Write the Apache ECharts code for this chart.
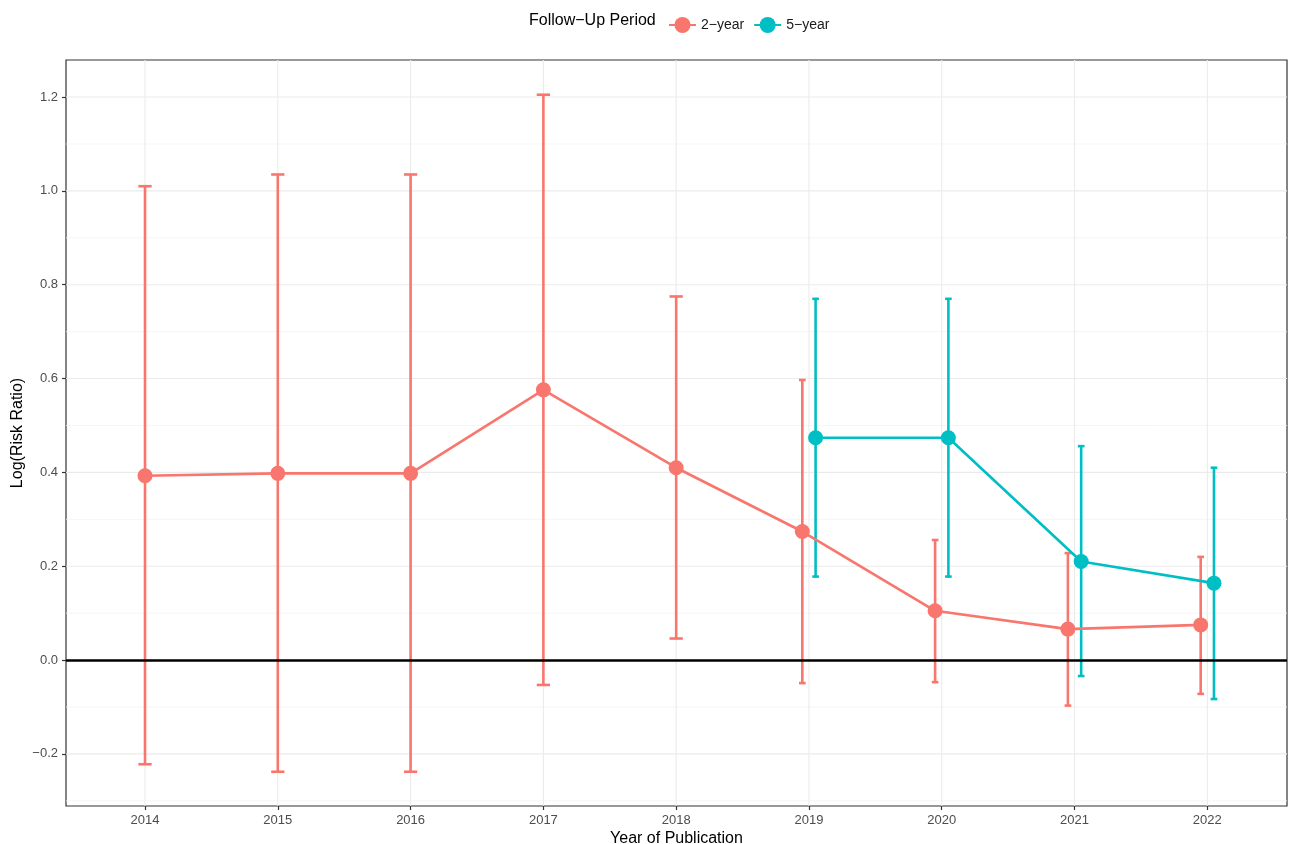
<!DOCTYPE html>
<html>
<head>
<meta charset="utf-8">
<script src="https://cdn.jsdelivr.net/npm/echarts@6/dist/echarts.min.js"></script>
<style>
html,body{margin:0;padding:0;background:#fff;}
#chart{width:1290px;height:844px;}
</style>
</head>
<body>
<div id="chart"></div>
<script>
// ---- data ----
const years = [2014, 2015, 2016, 2017, 2018, 2019, 2020, 2021, 2022];
const twoYearEst  = [0.393, 0.398, 0.398, 0.576, 0.410, 0.274, 0.105, 0.066, 0.075];
const twoYearLow  = [-0.222, -0.238, -0.238, -0.053, 0.046, -0.049, -0.047, -0.097, -0.072];
const twoYearHigh = [1.010, 1.035, 1.035, 1.205, 0.775, 0.597, 0.256, 0.228, 0.220];
const fiveYearYears = [2019, 2020, 2021, 2022];
const fiveYearEst  = [0.474, 0.474, 0.210, 0.164];
const fiveYearLow  = [0.178, 0.178, -0.034, -0.083];
const fiveYearHigh = [0.770, 0.770, 0.456, 0.410];
const yTicks = [-0.2, 0, 0.2, 0.4, 0.6, 0.8, 1.0, 1.2];
const yMinor = [-0.3, -0.1, 0.1, 0.3, 0.5, 0.7, 0.9, 1.1];
const seriesNames = ['2\u2212year', '5\u2212year'];

// ---- derived ----
const RED = '#F8766D', CYAN = '#00BFC4';
const DODGE = 0.05;
const bothYears = new Set(fiveYearYears.filter(y => years.includes(y)));
const twoX = years.map(y => bothYears.has(y) ? y - DODGE : y);
const fiveX = fiveYearYears.map(y => years.includes(y) ? y + DODGE : y);

const twoLine = twoX.map((x, i) => [x, twoYearEst[i]]);
const fiveLine = fiveX.map((x, i) => [x, fiveYearEst[i]]);
const twoErr = twoX.map((x, i) => [x, twoYearLow[i], twoYearHigh[i], bothYears.has(years[i]) ? 1 : 0]);
const fiveErr = fiveX.map((x, i) => [x, fiveYearLow[i], fiveYearHigh[i], 1]);

const gridData = [];
yTicks.forEach(v => gridData.push([2018, v, 0]));
yMinor.forEach(v => gridData.push([2018, v, 1]));
years.forEach(v => gridData.push([v, 0, 2]));

const FONT = '"Liberation Sans", Arial, Helvetica, sans-serif';

function errRender(color) {
  return function (params, api) {
    const x = api.value(0), lo = api.value(1), hi = api.value(2), dodged = api.value(3);
    const pLo = api.coord([x, lo]);
    const pHi = api.coord([x, hi]);
    const half = api.size([dodged ? 0.025 : 0.05, 0])[0];
    const style = { stroke: color, lineWidth: 2.6, fill: null };
    return {
      type: 'group',
      children: [
        { type: 'line', shape: { x1: pLo[0], y1: pLo[1], x2: pHi[0], y2: pHi[1] }, style },
        { type: 'line', shape: { x1: pLo[0] - half, y1: pLo[1], x2: pLo[0] + half, y2: pLo[1] }, style },
        { type: 'line', shape: { x1: pHi[0] - half, y1: pHi[1], x2: pHi[0] + half, y2: pHi[1] }, style }
      ]
    };
  };
}

const chart = echarts.init(document.getElementById('chart'), null, { renderer: 'canvas' });
chart.setOption({
  animation: false,
  backgroundColor: '#ffffff',
  textStyle: { fontFamily: FONT },
  grid: { left: 66, right: 3, top: 60, bottom: 38, show: true, borderColor: '#333333', borderWidth: 1.2,
    backgroundColor: '#ffffff', containLabel: false, outerBoundsMode: 'none' },
  graphic: [{
    type: 'text', left: 529, top: 13,
    style: { text: 'Follow\u2212Up Period', fontSize: 16, fontFamily: FONT, fill: '#000000' }
  }],
  legend: {
    left: 663, top: 12, itemWidth: 27, itemHeight: 20, itemGap: 9,
    textStyle: { fontSize: 14, color: '#1a1a1a', fontFamily: FONT },
    data: seriesNames
  },
  xAxis: {
    type: 'value', min: 2013.405, max: 2022.6,
    name: 'Year of Publication', nameLocation: 'middle', nameGap: 25, nameMoveOverlap: false,
    nameTextStyle: { fontSize: 16, color: '#000000', fontFamily: FONT },
    axisLine: { show: false, onZero: false },
    axisTick: { show: true, length: 4, customValues: years, lineStyle: { color: '#333333', width: 1.2 } },
    axisLabel: { customValues: years, fontSize: 13, color: '#4d4d4d', margin: 8, formatter: v => String(Math.round(v)) },
    splitLine: { show: false }
  },
  yAxis: {
    type: 'value', min: -0.311, max: 1.279,
    name: 'Log(Risk Ratio)', nameLocation: 'middle', nameGap: 40, nameMoveOverlap: false,
    nameTextStyle: { fontSize: 16, color: '#000000', fontFamily: FONT },
    axisLine: { show: false, onZero: false },
    axisTick: { show: true, length: 4, customValues: yTicks, lineStyle: { color: '#333333', width: 1.2 } },
    axisLabel: { customValues: yTicks, fontSize: 13, color: '#4d4d4d', margin: 8,
      formatter: v => (Math.abs(v) < 1e-9 ? '0.0' : v.toFixed(1)).replace('-', '\u2212') },
    splitLine: { show: false }
  },
  series: [
    {
      type: 'custom', name: 'gridlines', silent: true, z: 0,
      data: gridData, encode: { x: 0, y: 1 },
      renderItem: function (params, api) {
        const cs = params.coordSys;
        const kind = api.value(2);
        if (kind === 2) {
          const px = api.coord([api.value(0), 0])[0];
          return { type: 'line', shape: { x1: px, y1: cs.y, x2: px, y2: cs.y + cs.height }, style: { stroke: '#ebebeb', lineWidth: 1.1 } };
        }
        const py = api.coord([2018, api.value(1)])[1];
        return { type: 'line', shape: { x1: cs.x, y1: py, x2: cs.x + cs.width, y2: py },
          style: { stroke: kind === 0 ? '#ebebeb' : '#f2f2f2', lineWidth: kind === 0 ? 1.1 : 0.8 } };
      }
    },
    {
      type: 'line', name: 'zero', silent: true, z: 1, data: [],
      markLine: { silent: true, symbol: 'none', label: { show: false },
        lineStyle: { color: '#000000', width: 2.6, type: 'solid' }, data: [{ yAxis: 0 }] }
    },
    { type: 'custom', name: 'err2', z: 2, data: twoErr, encode: { x: 0, y: [1, 2] }, renderItem: errRender(RED), itemStyle: { color: RED } },
    { type: 'custom', name: 'err5', z: 2, data: fiveErr, encode: { x: 0, y: [1, 2] }, renderItem: errRender(CYAN), itemStyle: { color: CYAN } },
    {
      type: 'line', name: seriesNames[0], z: 3, data: twoLine, symbol: 'circle', symbolSize: 15, showSymbol: true,
      lineStyle: { color: RED, width: 2.6 }, itemStyle: { color: RED }
    },
    {
      type: 'line', name: seriesNames[1], z: 3, data: fiveLine, symbol: 'circle', symbolSize: 15, showSymbol: true,
      lineStyle: { color: CYAN, width: 2.6 }, itemStyle: { color: CYAN }
    }
  ]
});
</script>
</body>
</html>
